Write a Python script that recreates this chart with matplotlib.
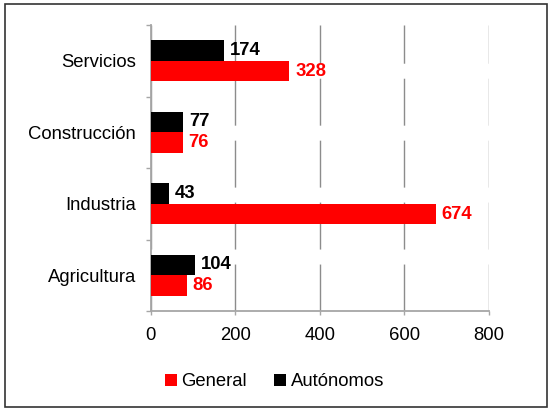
import matplotlib
matplotlib.use("Agg")
import matplotlib.pyplot as plt
from matplotlib.patches import Rectangle
import numpy as np

categories = ["Agricultura", "Industria", "Construcción", "Servicios"]
general = [86, 674, 76, 328]
autonomos = [104, 43, 77, 174]
xticks = [0, 200, 400, 600, 800]

plt.rcParams['font.family'] = ['Liberation Sans', 'DejaVu Sans']
FS = 13.3

fig = plt.figure(figsize=(5.48, 4.08), dpi=100)
ax = fig.add_axes([150.5/548, 1-311/408, (489-150.5)/548, (311-25)/408])

y = np.arange(len(categories))
h = 0.29
b_gen = ax.barh(y - h/2, general, height=h, color='#ff0000', zorder=3, label='General')
b_aut = ax.barh(y + h/2, autonomos, height=h, color='#000000', zorder=3, label='Autónomos')

ax.bar_label(b_aut, labels=[str(v) for v in autonomos], padding=4.3,
             fontsize=FS, fontweight='bold', color='black')
ax.bar_label(b_gen, labels=[str(v) for v in general], padding=4.3,
             fontsize=FS, fontweight='bold', color='#ff0000')

ax.set_xlim(0, 800)
ax.set_ylim(-0.5, len(categories) - 0.5)
ax.set_xticks(xticks)
ax.set_xticklabels([str(t) for t in xticks], fontsize=FS)
ax.set_yticks(y)
ax.set_yticklabels(categories, fontsize=FS)
ax.set_yticks(np.arange(-0.5, len(categories), 1.0), minor=True)

ax.tick_params(axis='y', which='major', length=0, pad=10.4)
ax.tick_params(axis='y', which='minor', length=3.6, width=1.0, color='#a6a6a6', direction='out')
ax.tick_params(axis='x', which='major', length=3.2, width=1.0, color='#a6a6a6', pad=8, direction='out')

for s in ['top', 'right']:
    ax.spines[s].set_visible(False)
for s in ['left', 'bottom']:
    ax.spines[s].set_color('#a6a6a6')
    ax.spines[s].set_linewidth(1.3)

ax.xaxis.grid(True, color='#8c8c8c', linewidth=1.0, linestyle=(0, (33.8, 10.8)), zorder=0)
ax.set_axisbelow(True)

leg = fig.legend(handles=[b_gen, b_aut], labels=['General', 'Autónomos'],
                 loc='center', bbox_to_anchor=(274.5/548, 1-382/408), ncol=2,
                 frameon=False, fontsize=FS, handlelength=0.65, handleheight=0.65,
                 handletextpad=0.25, columnspacing=1.5, borderpad=0)

fig.patches.append(Rectangle((5/548, 1/408), 541.5/548, 403/408, transform=fig.transFigure,
                             fill=False, edgecolor='#333333', linewidth=1.2))

fig.savefig("out.png", dpi=100)
